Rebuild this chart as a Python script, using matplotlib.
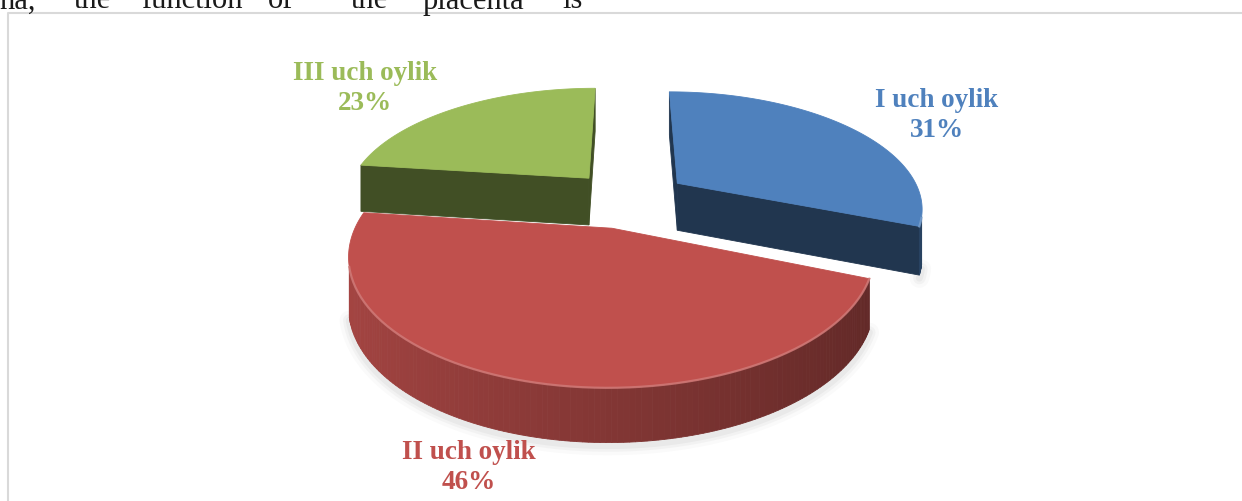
import numpy as np
import matplotlib.pyplot as plt
from matplotlib.patches import Polygon
from matplotlib.colors import to_rgb

# ulushlar (12 dan soat yo'nalishida)
names = ['I uch oylik', 'II uch oylik', 'III uch oylik']
shares = [31, 46, 23]
top_colors = ['#4F81BD', '#C0504D', '#9BBB59']

# yorliq joylari (piksel)
label_pos = [(937, 107), (469, 459), (365, 80)]

# sahifadagi matn qatori (so'z markazlari)
words = ['na,', 'the', 'function', 'of', 'the', 'placenta', 'is']
word_cx = [18, 92, 192, 281, 369, 473, 573]

# 3D ko'rinish sozlamalari
a = np.radians(28)
D = 4.5
F = 1102
SX0, SY0 = 628, 200
K = 101          # qalinlik (piksel * sqrt(d))
h = 0.2
e = 0.25         # ajratish
cam = np.array([0, -D * np.cos(a), D * np.sin(a)])


def proj(X, Y, t):
    d = D + Y * np.cos(a)
    sx = SX0 + F * X / d
    sy = SY0 - F * Y * np.sin(a) / d + t * K / np.sqrt(d)
    return sx, sy


def shade(c, m):
    r, g, b = to_rgb(c)
    return (r * m, g * m, b * m)


def lighten(c, m):
    r, g, b = to_rgb(c)
    return (r + (1 - r) * m, g + (1 - g) * m, b + (1 - b) * m)


fig = plt.figure(figsize=(12.42, 5.02), dpi=100)
ax = fig.add_axes([0, 0, 1, 1])
ax.set_xlim(0, 1242)
ax.set_ylim(502, 0)
ax.axis('off')

# ramka
ax.plot([7.5, 7.5, 1242], [502, 13.5, 13.5], color='#D9D9D9', lw=1.5, zorder=1)

for w, x in zip(words, word_cx):
    ax.text(x, 8.5, w, fontsize=22, family='Liberation Serif', color='#1a1a1a',
            ha='center', va='baseline', zorder=1)

bounds = np.concatenate([[0], np.cumsum(shares)]) * 2 * np.pi / sum(shares)
slices = []
for i in range(len(shares)):
    th1, th2 = bounds[i], bounds[i + 1]
    mid = (th1 + th2) / 2
    slices.append((i, th1, th2, e * np.sin(mid), e * np.cos(mid)))

# uzoqdagi bo'laklar birinchi chiziladi
slices.sort(key=lambda s: -s[4])

z = 2
for i, th1, th2, ox, oy in slices:
    col = top_colors[i]
    phi = np.linspace(th1, th2, 160)
    rx, ry = ox + np.sin(phi), oy + np.cos(phi)

    # soya
    vis = [np.dot((np.sin(p), np.cos(p), 0),
                  cam - np.array([ox + np.sin(p), oy + np.cos(p), -h / 2])) > 0 for p in phi]
    vis = np.array(vis)
    if vis.any():
        bx, by = proj(rx[vis], ry[vis], 1)
        for lw, al in [(14, 0.04), (9, 0.06), (5, 0.08)]:
            ax.plot(bx, by + 3, color='gray', lw=lw, alpha=al,
                    solid_capstyle='round', zorder=1.5)

    # radial devorlar
    for th, n in [(th1, (-np.cos(th1), np.sin(th1), 0)),
                  (th2, (np.cos(th2), -np.sin(th2), 0))]:
        P = np.array([ox + 0.5 * np.sin(th), oy + 0.5 * np.cos(th), -h / 2])
        if np.dot(n, cam - P) > 0:
            pts = [proj(ox, oy, 0), proj(ox + np.sin(th), oy + np.cos(th), 0),
                   proj(ox + np.sin(th), oy + np.cos(th), 1), proj(ox, oy, 1)]
            c = shade(col, 0.42)
            ax.add_patch(Polygon(pts, closed=True, fc=c, ec=c, lw=0.6, zorder=z))

    # tashqi egri devor
    for j in range(len(phi) - 1):
        pm = (phi[j] + phi[j + 1]) / 2
        n = (np.sin(pm), np.cos(pm), 0)
        P = np.array([ox + np.sin(pm), oy + np.cos(pm), -h / 2])
        if np.dot(n, cam - P) > 0:
            pts = [proj(rx[j], ry[j], 0), proj(rx[j + 1], ry[j + 1], 0),
                   proj(rx[j + 1], ry[j + 1], 1), proj(rx[j], ry[j], 1)]
            c = shade(col, 0.68 - 0.18 * np.sin(pm))
            ax.add_patch(Polygon(pts, closed=True, fc=c, ec=c, lw=0.6, zorder=z))

    # yuqori yuz
    tx, ty = proj(rx, ry, 0)
    cx, cy = proj(ox, oy, 0)
    top = np.column_stack([np.r_[cx, tx], np.r_[cy, ty]])
    ax.add_patch(Polygon(top, closed=True, fc=col, ec=col, lw=0.6, zorder=z + 0.5))

    # old qirradagi yorug' chiziq
    if vis.any():
        ax.plot(tx[vis], ty[vis], color=lighten(col, 0.25), lw=1.6,
                alpha=0.8, zorder=z + 0.6)
    z += 1

for i in range(len(shares)):
    x, y = label_pos[i]
    ax.text(x, y, names[i], fontsize=19.5, family='Liberation Serif',
            weight='bold', color=top_colors[i], ha='center', va='baseline', zorder=10)
    ax.text(x, y + 30, f'{shares[i]}%', fontsize=19.5, family='Liberation Serif',
            weight='bold', color=top_colors[i], ha='center', va='baseline', zorder=10)

fig.savefig('out.png', dpi=100)
